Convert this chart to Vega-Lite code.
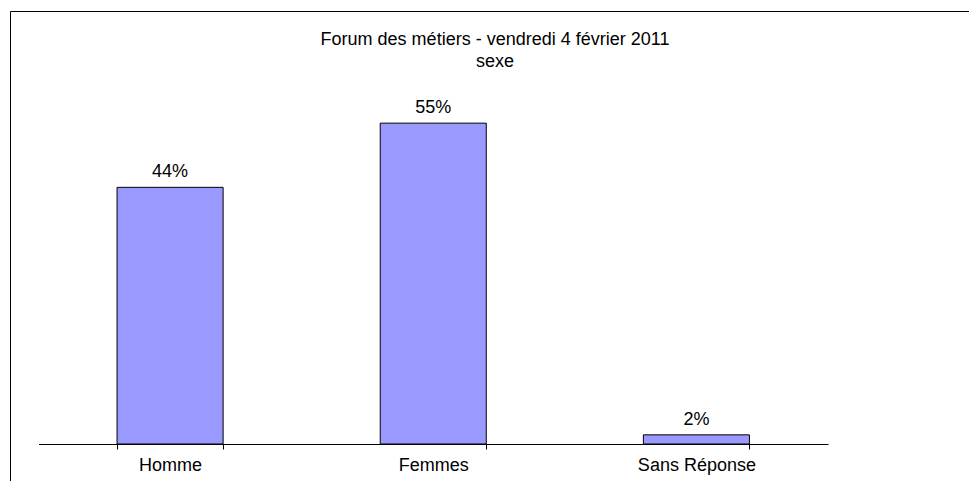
{
  "$schema": "https://vega.github.io/schema/vega-lite/v6.json",
  "width": 970,
  "height": 480,
  "autosize": {"type": "none"},
  "padding": {"left": 10, "top": 11, "right": -11, "bottom": -10},
  "background": "white",
  "config": {"view": {"stroke": "black", "strokeWidth": 1}, "font": "Liberation Sans"},
  "title": {
    "text": ["Forum des métiers - vendredi 4 février 2011", "sexe"],
    "fontSize": 18,
    "fontWeight": "normal",
    "anchor": "middle",
    "offset": -60,
    "baseline": "top",
    "lineHeight": 22,
    "color": "black"
  },
  "data": {
    "values": [
      {"sexe": "Homme", "part": 0.4375},
      {"sexe": "Femmes", "part": 0.5469},
      {"sexe": "Sans Réponse", "part": 0.0156}
    ]
  },
  "encoding": {
    "x": {
      "field": "sexe",
      "type": "nominal",
      "sort": null,
      "scale": {"range": [28.5, 818], "paddingInner": 0.597, "paddingOuter": 0.2985},
      "axis": {
        "title": null,
        "orient": "bottom",
        "offset": -47,
        "domainColor": "black",
        "tickColor": "black",
        "tickSize": 5,
        "tickBand": "extent",
        "labelFontSize": 18,
        "labelColor": "black",
        "labelPadding": 7,
        "labelAngle": 0,
        "grid": false
      }
    },
    "y": {
      "field": "part",
      "type": "quantitative",
      "scale": {"domain": [0, 0.6], "range": [433, 81]},
      "axis": null
    }
  },
  "layer": [
    {"mark": {"type": "bar", "fill": "#9999FF", "stroke": "black", "strokeWidth": 1}},
    {
      "mark": {"type": "text", "baseline": "bottom", "dy": -6, "fontSize": 18, "color": "black"},
      "encoding": {"text": {"field": "part", "type": "quantitative", "format": ".0%"}}
    }
  ]
}
